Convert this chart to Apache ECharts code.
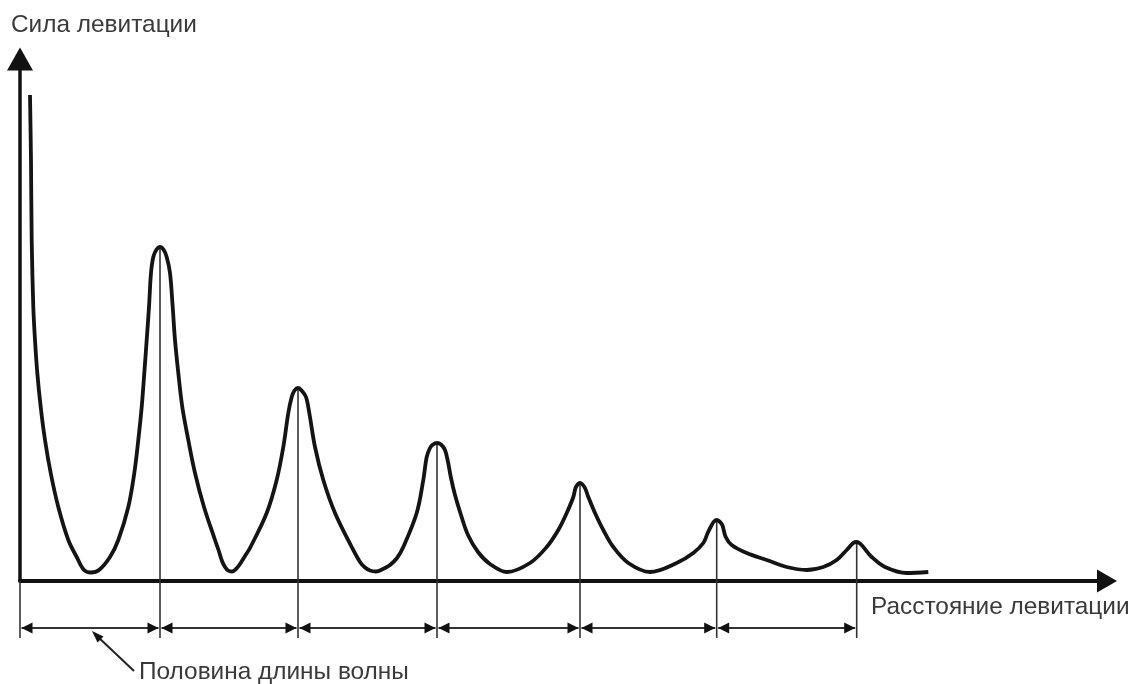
<!DOCTYPE html>
<html>
<head>
<meta charset="utf-8">
<script src="https://cdn.jsdelivr.net/npm/echarts@6/dist/echarts.min.js"></script>
<style>
html,body{margin:0;padding:0;background:#fff;}
#chart{width:1131px;height:684px;}
</style>
</head>
<body>
<div id="chart"></div>
<script>
// Curve of levitation force vs levitation distance (arbitrary units)
const curveX = [1.0, 1.1, 1.17, 1.33, 1.5, 1.73, 2.07, 2.5, 3.07, 3.83, 4.83, 5.67, 6.4, 7.1, 7.9, 9.0, 9.83, 10.83, 11.43, 11.83, 12.17, 12.43, 12.67, 12.9, 13.1, 13.33, 13.65, 14.0, 14.35, 14.67, 15.0, 15.27, 15.5, 15.83, 16.23, 16.83, 17.5, 18.4, 19.5, 19.85, 20.2, 20.5, 20.8, 21.2, 21.6, 22.0, 22.5, 23.0, 24.67, 25.67, 26.33, 26.83, 27.17, 27.45, 27.8, 28.2, 28.6, 28.93, 29.5, 30.33, 31.5, 33.17, 34.0, 34.5, 35.0, 35.6, 36.3, 37.0, 37.7, 38.33, 39.67, 40.33, 40.67, 41.0, 41.3, 41.7, 42.1, 42.5, 42.8, 43.1, 43.5, 44.1, 44.8, 45.8, 47.0, 48.7, 51.0, 52.67, 53.83, 54.67, 55.33, 55.55, 55.8, 56.0, 56.2, 56.5, 56.83, 57.5, 58.33, 59.33, 60.83, 63.0, 65.67, 67.33, 68.33, 68.77, 69.17, 69.4, 69.67, 69.95, 70.23, 70.57, 71.17, 72.67, 74.67, 76.67, 78.67, 80.33, 81.67, 82.67, 83.33, 83.67, 84.0, 84.33, 85.17, 86.5, 88.67, 90.83];
const curveY = [97.2, 84.2, 68.2, 54.8, 48.2, 41.6, 34.8, 28.2, 21.6, 14.8, 8.2, 4.8, 2.2, 1.7, 2.2, 4.8, 8.2, 14.8, 21.6, 28.2, 34.8, 41.6, 48.2, 54.8, 61.6, 64.8, 66.3, 66.8, 66.3, 64.8, 61.6, 54.8, 48.2, 41.6, 34.8, 28.2, 21.6, 14.8, 8.2, 6.2, 4.0, 2.8, 2.1, 1.9, 2.4, 3.4, 5.0, 6.6, 13.6, 20.2, 26.8, 33.6, 36.8, 38.1, 38.6, 38.0, 36.8, 33.6, 26.8, 20.2, 13.6, 6.8, 3.8, 2.7, 2.1, 1.9, 2.4, 3.2, 4.6, 6.8, 13.6, 20.2, 24.8, 26.6, 27.3, 27.6, 27.3, 26.2, 23.8, 20.6, 17.2, 13.2, 9.2, 5.8, 3.4, 1.8, 3.6, 6.8, 10.2, 13.6, 16.8, 18.6, 19.4, 19.6, 19.4, 18.6, 16.8, 13.6, 10.2, 6.8, 3.6, 1.8, 3.6, 5.6, 7.6, 9.6, 11.2, 11.9, 12.2, 11.9, 11.2, 8.8, 7.2, 5.6, 4.2, 2.8, 2.2, 2.8, 4.2, 6.2, 7.6, 7.8, 7.5, 6.8, 4.8, 2.8, 1.6, 1.8];
// Peaks (positions of the half-wavelength marks)
const peakX = [14.0, 27.8, 41.7, 56.0, 69.67, 83.67];
const peakY = [66.8, 38.6, 27.6, 19.6, 12.2, 7.8];
// Texts
const yTitle = 'Сила левитации';
const xTitle = 'Расстояние левитации';
const noteText = 'Половина длины волны';

const markBottom = -11.4; // lower end of the vertical marks
const dimLevel = -9.4;    // level of the dimension arrows

const curveData = curveX.map((x, i) => [x, curveY[i]]);
const markData = [[0, 0]].concat(peakX.map((x, i) => [x, peakY[i]]));
const bounds = [0].concat(peakX);
const segData = [];
for (let i = 0; i < bounds.length - 1; i++) segData.push([bounds[i], bounds[i + 1]]);

const FONT = '"Liberation Sans", Arial, "DejaVu Sans", sans-serif';
const LINE = '#333333';
const TXT = '#3a3a3a';
const FS = '24.4px ';

const chart = echarts.init(document.getElementById('chart'), null, {renderer: 'canvas'});
chart.setOption({
  animation: false,
  backgroundColor: '#ffffff',
  grid: {left: 20, right: 24, top: 61, bottom: 103, containLabel: false},
  xAxis: {
    type: 'value', min: 0, max: 108.7,
    axisLine: {show: true, onZero: false, symbol: ['none', 'triangle'], symbolSize: [23, 20],
      lineStyle: {color: '#111111', width: 4}},
    axisTick: {show: false}, axisLabel: {show: false}, splitLine: {show: false}
  },
  yAxis: {
    type: 'value', min: 0, max: 104,
    axisLine: {show: true, onZero: false, symbol: ['none', 'triangle'], symbolSize: [26, 23],
      symbolOffset: [0, 2], lineStyle: {color: '#111111', width: 3.5}},
    axisTick: {show: false}, axisLabel: {show: false}, splitLine: {show: false}
  },
  series: [
    {
      name: 'marks', type: 'custom', clip: false, z: 1,
      data: markData,
      renderItem: function (params, api) {
        const top = api.coord([api.value(0), api.value(1)]);
        const bot = api.coord([api.value(0), markBottom]);
        return {type: 'line', shape: {x1: top[0], y1: top[1], x2: bot[0], y2: bot[1]},
          style: {stroke: LINE, lineWidth: 1.6}};
      }
    },
    {
      name: 'halfwave', type: 'custom', clip: false, z: 1,
      data: segData,
      renderItem: function (params, api) {
        const a = api.coord([api.value(0), dimLevel]);
        const b = api.coord([api.value(1), dimLevel]);
        const y = a[1], L = 11, H = 5.5;
        const xa = a[0] + 1.5, xb = b[0] - 1.5;
        return {type: 'group', children: [
          {type: 'line', shape: {x1: xa, y1: y, x2: xb, y2: y}, style: {stroke: LINE, lineWidth: 1.8}},
          {type: 'polygon', shape: {points: [[xa, y], [xa + L, y - H], [xa + L, y + H]]}, style: {fill: '#111'}},
          {type: 'polygon', shape: {points: [[xb, y], [xb - L, y - H], [xb - L, y + H]]}, style: {fill: '#111'}}
        ]};
      }
    },
    {
      name: 'force', type: 'line', data: curveData, smooth: 0.35, showSymbol: false,
      lineStyle: {color: '#141414', width: 3.8, cap: 'butt', join: 'round'}, z: 3
    }
  ],
  graphic: [
    {type: 'text', left: 11, top: 13, style: {text: yTitle, font: FS + FONT, fill: TXT}},
    {type: 'text', left: 871, top: 595, style: {text: xTitle, font: FS + FONT, fill: TXT}},
    {type: 'text', left: 139, top: 660, style: {text: noteText, font: FS + FONT, fill: TXT}},
    {type: 'line', shape: {x1: 134, y1: 671, x2: 97, y2: 636}, style: {stroke: '#222', lineWidth: 2}},
    {type: 'polygon', shape: {points: [[92, 631], [103.5, 636.5], [97.5, 642.5]]}, style: {fill: '#111'}}
  ]
});
</script>
</body>
</html>
